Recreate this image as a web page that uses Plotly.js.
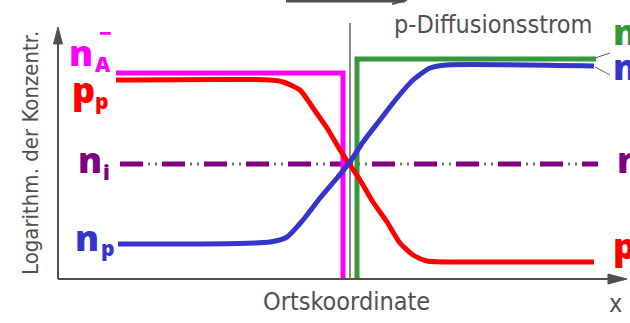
<!DOCTYPE html>
<html>
<head>
<meta charset="utf-8">
<script src="https://cdn.plot.ly/plotly-3.0.1.min.js"></script>
<style>html,body{margin:0;padding:0;background:#fff;}#chart{width:630px;height:323px;}</style>
</head>
<body>
<div id="chart"></div>
<script>
// Position along x (distance from the y axis) and log-concentration (height above x axis)
const posP = [58, 212, 225, 242, 255, 269, 282, 292, 302, 315, 329, 342, 355, 369, 402, 536];
const logP = [199, 199, 197, 189, 171, 151, 129, 114, 99, 77, 57, 36, 24, 18, 17, 17];

const posN = [60, 212, 229, 245, 262, 279, 292, 305, 322, 339, 355, 372, 389, 536];
const logN = [35, 37, 42, 59, 81, 101, 117, 137, 159, 181, 199, 211, 214, 213];

const posNA = [58, 285, 285];
const logNA = [206, 206, 0];

const posND = [299, 299, 538];
const logND = [0, 220, 220];

const posNi = [62, 540];
const logNi = [115, 115];

const posJunction = [292, 292];
const logJunction = [0, 256];

const gray = '#505050';
const cMag = '#ff00ff', cRed = '#ff0000', cBlue = '#3535cc', cGreen = '#33993a', cPurple = '#800080';

const traces = [
  {x: posJunction, y: logJunction, mode: 'lines', line: {color: '#8a8a8a', width: 2}},
  {x: posNi, y: logNi, mode: 'lines', line: {color: '#707070', width: 3, dash: '2px,5px'}},
  {x: posNi, y: logNi, mode: 'lines', line: {color: cPurple, width: 5, dash: '23px,19px'}},
  {x: posNA, y: logNA, mode: 'lines', line: {color: cMag, width: 5}},
  {x: posND, y: logND, mode: 'lines', line: {color: cGreen, width: 5}},
  {x: posP, y: logP, mode: 'lines', line: {color: cRed, width: 5, shape: 'spline', smoothing: 0.6}},
  {x: posN, y: logN, mode: 'lines', line: {color: cBlue, width: 5, shape: 'spline', smoothing: 0.6}}
];

function A(text, x, y, color, size) {
  return {text: text, x: x, y: y, xref: 'x', yref: 'y', showarrow: false,
    xanchor: 'left', yanchor: 'middle',
    font: {family: 'Open Sans', size: size, color: color, weight: 800}};
}

const annotations = [
  A('n', 9, 227, cMag, 36),
  A('A', 35, 215, cMag, 21),
  A('−', 39, 247, cMag, 22),
  A('p', 12, 190, cRed, 36),
  A('p', 35, 178, cRed, 21),
  A('n', 18, 120, cPurple, 36),
  A('i', 43, 107, cPurple, 21),
  A('n', 15, 42, cBlue, 36),
  A('p', 41, 31, cBlue, 21),
  A('n', 553, 248, cGreen, 36),
  A('n', 553, 213, cBlue, 36),
  A('n', 557, 120, cPurple, 36),
  A('p', 553, 34, cRed, 36),
  {text: 'p-Diffusionsstrom', x: 334, y: 255, xref: 'x', yref: 'y', showarrow: false, xanchor: 'left', yanchor: 'middle',
   font: {family: 'DejaVu Sans Condensed', size: 25, color: gray}},
  {text: 'Logarithm. der Konzentr.', x: -28, y: 126, xref: 'x', yref: 'y', showarrow: false, textangle: -90,
   xanchor: 'center', yanchor: 'middle', font: {family: 'DejaVu Sans Condensed', size: 22, color: gray}},
  {text: 'Ortskoordinate', x: 288, y: -22, xref: 'x', yref: 'y', showarrow: false, xanchor: 'center', yanchor: 'middle',
   font: {family: 'DejaVu Sans Condensed', size: 25, color: gray}},
  {text: 'x', x: 557, y: -24, xref: 'x', yref: 'y', showarrow: false, xanchor: 'center', yanchor: 'middle',
   font: {family: 'DejaVu Sans Condensed', size: 25, color: gray}}
];

const shapes = [
  {type: 'line', x0: 0, y0: 0, x1: 0, y1: 240, line: {color: gray, width: 2}},
  {type: 'path', path: 'M 0 252 L -4.5 235 L 4.5 235 Z', fillcolor: gray, line: {color: gray, width: 1}},
  {type: 'line', x0: 0, y0: 0, x1: 556, y1: 0, line: {color: gray, width: 2}},
  {type: 'path', path: 'M 569 0 L 550 5 L 550 -5 Z', fillcolor: gray, line: {color: gray, width: 1}},
  {type: 'line', x0: 228, y0: 278, x1: 347, y1: 278, line: {color: gray, width: 3}},
  {type: 'line', x0: 334, y0: 275, x1: 349, y1: 279, line: {color: gray, width: 2}},
  {type: 'line', x0: 537, y0: 221, x1: 552, y1: 226, line: {color: '#666', width: 1}},
  {type: 'line', x0: 537, y0: 212, x1: 552, y1: 204, line: {color: '#666', width: 1}}
];

const layout = {
  width: 630, height: 323,
  margin: {l: 0, r: 0, t: 0, b: 0, pad: 0},
  paper_bgcolor: '#ffffff', plot_bgcolor: '#ffffff',
  showlegend: false,
  xaxis: {range: [-58, 572], visible: false, fixedrange: true},
  yaxis: {range: [-44, 279], visible: false, fixedrange: true},
  annotations: annotations,
  shapes: shapes
};

Plotly.newPlot('chart', traces, layout, {staticPlot: true, displayModeBar: false});
</script>
</body>
</html>
